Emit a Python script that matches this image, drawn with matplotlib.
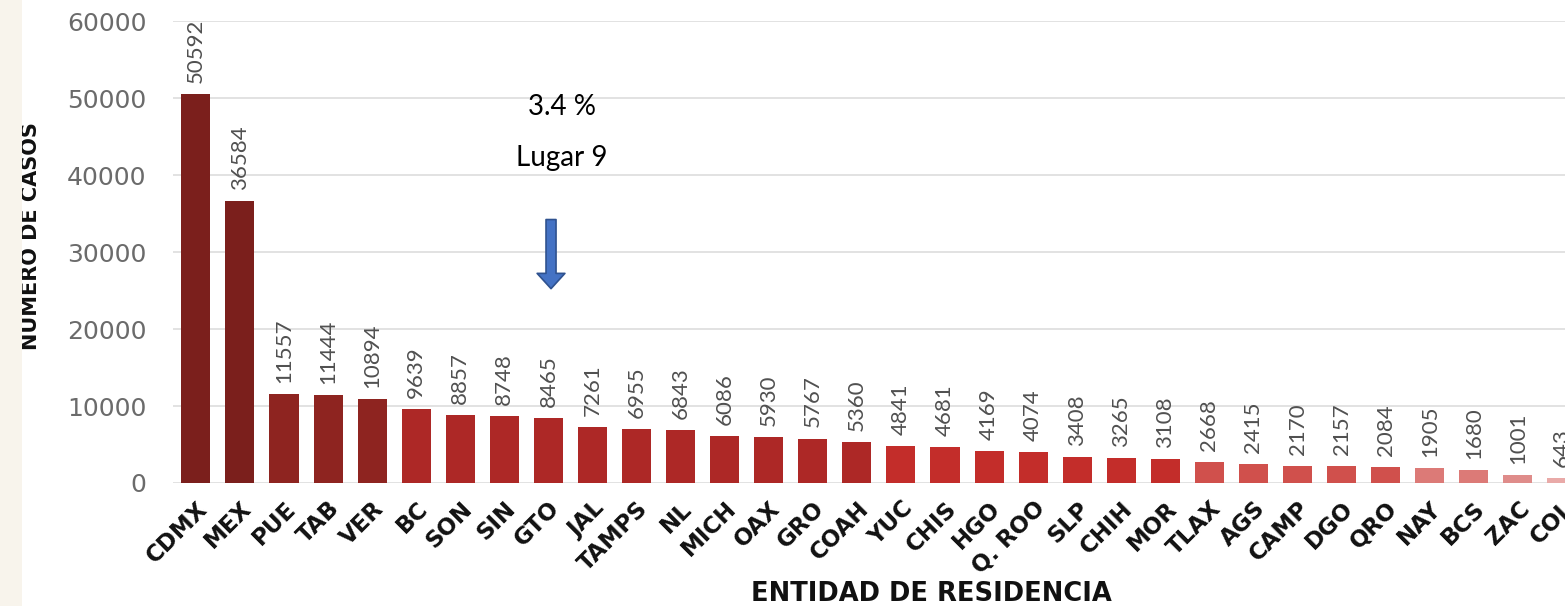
import matplotlib
matplotlib.use("Agg")
import matplotlib.pyplot as plt
from matplotlib.patches import Rectangle

states = ["CDMX", "MEX", "PUE", "TAB", "VER", "BC", "SON", "SIN", "GTO", "JAL",
          "TAMPS", "NL", "MICH", "OAX", "GRO", "COAH", "YUC", "CHIS", "HGO", "Q. ROO",
          "SLP", "CHIH", "MOR", "TLAX", "AGS", "CAMP", "DGO", "QRO", "NAY", "BCS",
          "ZAC", "COL"]
cases = [50592, 36584, 11557, 11444, 10894, 9639, 8857, 8748, 8465, 7261,
         6955, 6843, 6086, 5930, 5767, 5360, 4841, 4681, 4169, 4074,
         3408, 3265, 3108, 2668, 2415, 2170, 2157, 2084, 1905, 1680,
         1001, 643]
y_ticks = [0, 10000, 20000, 30000, 40000, 50000, 60000]
annot_line1 = "3.4 %"
annot_line2 = "Lugar 9"
highlight = "GTO"

colors = (["#7b1f1c"] * 2 + ["#8e2420"] * 3 + ["#ad2826"] * 11 + ["#c32d2a"] * 7 +
          ["#d0504c"] * 5 + ["#dc7a77"] * 2 + ["#df8c8a"] + ["#e9aaa8"])

fig = plt.figure(figsize=(15.65, 6.06), dpi=100)
fig.patch.set_facecolor("white")
fig.patches.append(Rectangle((0, 0), 0.014, 1, transform=fig.transFigure,
                             facecolor="#f8f4ec", edgecolor="none", zorder=0))
ax = fig.add_axes([0.1105, 0.203, 0.8895, 0.762])
x = list(range(len(states)))
ax.bar(x, cases, width=0.66, color=colors, zorder=3)

for xi, v in zip(x, cases):
    ax.annotate(str(v), (xi, v), xytext=(0, 8), textcoords="offset points",
                rotation=90, ha="center", va="bottom", fontsize=16,
                color="#505050", family="Lato", clip_on=False)

ax.set_xlim(-0.52, 31.07)
ax.set_ylim(0, 60000)
ax.set_yticks(y_ticks)
ax.set_yticklabels([str(t) for t in y_ticks], fontsize=18, color="#6b6b6b",
                   family="DejaVu Sans")
ax.tick_params(axis="y", length=0, pad=19)
ax.set_xticks(x)
ax.set_xticklabels(states, rotation=45, ha="right", rotation_mode="anchor",
                   fontsize=16.5, fontweight="bold", color="#111111")
ax.tick_params(axis="x", length=0, pad=10)
ax.grid(axis="y", color="#e2e2e2", linewidth=1.4, zorder=0)
for s in ax.spines.values():
    s.set_visible(False)

ax.set_ylabel("NÚMERO DE CASOS", fontsize=15, fontweight="bold", color="#111111")
ax.yaxis.set_label_coords(-0.095, 0.535)
ax.set_xlabel("ENTIDAD DE RESIDENCIA", fontsize=18.5, fontweight="bold",
              color="#111111")
ax.xaxis.set_label_coords(0.5445, -0.212)

gi = states.index(highlight)
ax.text(gi + 0.3, 47840, annot_line1, ha="center", va="baseline", fontsize=20,
        family="Lato", color="black")
ax.text(gi + 0.3, 41210, annot_line2, ha="center", va="baseline", fontsize=20,
        family="Lato", color="black")
ax.annotate("", xy=(gi + 0.06, 25250), xytext=(gi + 0.06, 34230),
            arrowprops=dict(arrowstyle="simple,head_width=1.0,head_length=0.55,tail_width=0.36",
                            fc="#4472c4", ec="#2f528f", lw=1.2,
                            shrinkA=0, shrinkB=0, mutation_scale=20))

fig.savefig("out.png", dpi=100)
